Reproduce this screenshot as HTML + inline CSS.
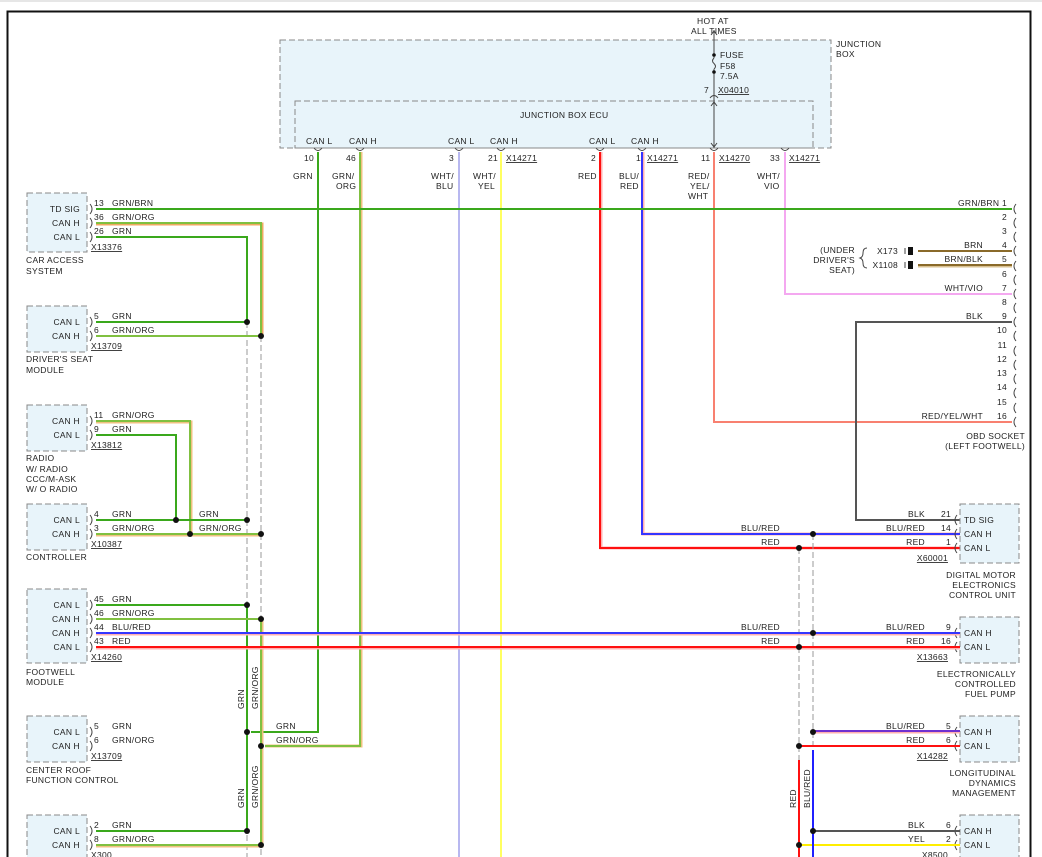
<!DOCTYPE html>
<html><head><meta charset="utf-8"><style>
html,body{margin:0;padding:0;background:#fff}
svg{display:block}
text{font-family:"Liberation Sans",sans-serif;font-size:8.5px;fill:#222;letter-spacing:0.3px}
.u{text-decoration:underline}
</style></head><body>
<svg width="1042" height="857" viewBox="0 0 1042 857" xmlns="http://www.w3.org/2000/svg">
<rect x="0" y="0" width="1042" height="2" fill="#e6e6e6"/>
<path d="M7.5,857 V11.5 H1030.5 V857" fill="none" stroke="#111" stroke-width="2"/>

<!-- Junction box -->
<rect x="280" y="40" width="551" height="108" fill="#e8f4fa" stroke="#888" stroke-dasharray="6,3"/>
<rect x="295" y="101" width="518" height="47" fill="none" stroke="#888" stroke-dasharray="6,3"/>
<text x="836" y="47">JUNCTION</text><text x="836" y="57">BOX</text>
<text x="520" y="118">JUNCTION BOX ECU</text>
<text x="697" y="24">HOT AT</text><text x="691" y="34">ALL TIMES</text>
<line x1="714" y1="30" x2="714" y2="148" stroke="#444" stroke-width="1"/>
<path d="M711,35 L714,31 L717,35 M711,106 L714,102 L717,106 M711,143 L714,147 L717,143" fill="none" stroke="#444"/>
<path d="M710,98 q4,-5 8,0" fill="none" stroke="#444"/>
<circle cx="714" cy="55" r="1.8" fill="#111"/><circle cx="714" cy="72" r="1.8" fill="#111"/>
<rect x="712" y="58" width="4" height="11" fill="#e8f4fa"/>
<path d="M714,58 q-3,3 0,5.5 q3,3 0,5.5" fill="none" stroke="#444"/>
<text x="720" y="58">FUSE</text><text x="720" y="69">F58</text><text x="720" y="79">7.5A</text>
<text x="704" y="93">7</text><text x="718" y="93" class="u">X04010</text>

<g>
<text x="306" y="144">CAN L</text><text x="349" y="144">CAN H</text>
<text x="448" y="144">CAN L</text><text x="490" y="144">CAN H</text>
<text x="589" y="144">CAN L</text><text x="631" y="144">CAN H</text>
</g>
<g fill="none" stroke="#444">
<path d="M314,148 q4,5 8,0 M356,148 q4,5 8,0 M455,148 q4,5 8,0 M497,148 q4,5 8,0 M596,148 q4,5 8,0 M638,148 q4,5 8,0 M710,148 q4,5 8,0 M781,148 q4,5 8,0"/>
</g>
<text x="304" y="161">10</text><text x="346" y="161">46</text><text x="449" y="161">3</text><text x="488" y="161">21</text><text x="506" y="161" class="u">X14271</text>
<text x="591" y="161">2</text><text x="636" y="161">1</text><text x="647" y="161" class="u">X14271</text>
<text x="701" y="161">11</text><text x="719" y="161" class="u">X14270</text><text x="770" y="161">33</text><text x="789" y="161" class="u">X14271</text>
<text x="293" y="179">GRN</text><text x="332" y="179">GRN/</text><text x="336" y="189">ORG</text>
<text x="431" y="179">WHT/</text><text x="436" y="189">BLU</text><text x="473" y="179">WHT/</text><text x="478" y="189">YEL</text>
<text x="578" y="179">RED</text><text x="619" y="179">BLU/</text><text x="620" y="189">RED</text>
<text x="688" y="179">RED/</text><text x="690" y="189">YEL/</text><text x="688" y="199">WHT</text>
<text x="757" y="179">WHT/</text><text x="764" y="189">VIO</text>

<!-- vertical wires from JB -->
<line x1="459" y1="152" x2="459" y2="857" stroke="#b8b8f0" stroke-width="2"/>
<line x1="501" y1="152" x2="501" y2="857" stroke="#ffff60" stroke-width="2"/>
<path d="M785,152 V294 H1012" fill="none" stroke="#f4a8f0" stroke-width="2"/>
<path d="M714,152 V422 H1012" fill="none" stroke="#f88070" stroke-width="2"/>
<path d="M601,152 V548 H960" fill="none" stroke="#ffb0b0" stroke-width="3"/>
<path d="M600,152 V548 H960" fill="none" stroke="#ff1010" stroke-width="2"/>
<path d="M643,152 V534 H960" fill="none" stroke="#ffb0b0" stroke-width="3"/>
<path d="M642,152 V534 H960" fill="none" stroke="#3535ff" stroke-width="2"/>
<path d="M1012,322 H856 V520 H960" fill="none" stroke="#555" stroke-width="2"/>
<path d="M361,152 V746 H265" fill="none" stroke="#f0c080" stroke-width="3"/>
<path d="M360,152 V746 H265" fill="none" stroke="#80c040" stroke-width="2"/>
<path d="M318,152 V732 H251" fill="none" stroke="#3aa81c" stroke-width="2"/>

<!-- main GRN/BRN -->
<line x1="96" y1="209" x2="1012" y2="209" stroke="#3aa81c" stroke-width="2"/>

<!-- dashed buses -->
<g stroke="#999" stroke-dasharray="6,3" stroke-width="1">
<line x1="247" y1="322" x2="247" y2="857"/><line x1="261" y1="336" x2="261" y2="857"/>
<line x1="799" y1="548" x2="799" y2="857"/><line x1="813" y1="534" x2="813" y2="857"/>
</g>

<!-- left modules -->
<g fill="#e8f4fa" stroke="#888" stroke-dasharray="6,3">
<rect x="27" y="193" width="60" height="59"/>
<rect x="27" y="306" width="60" height="46"/>
<rect x="27" y="405" width="60" height="46"/>
<rect x="27" y="504" width="60" height="46"/>
<rect x="27" y="589" width="60" height="74"/>
<rect x="27" y="716" width="60" height="46"/>
<rect x="27" y="815" width="60" height="50"/>
<rect x="960" y="504" width="59" height="59"/>
<rect x="960" y="617" width="59" height="46"/>
<rect x="960" y="716" width="59" height="46"/>
<rect x="960" y="815" width="59" height="50"/>
</g>
<!-- connector glyphs left -->
<g fill="none" stroke="#444">
<path d="M90,204 q4,5 0,10 M90,218 q4,5 0,10 M90,232 q4,5 0,10
M90,317 q4,5 0,10 M90,331 q4,5 0,10
M90,416 q4,5 0,10 M90,430 q4,5 0,10
M90,515 q4,5 0,10 M90,529 q4,5 0,10
M90,600 q4,5 0,10 M90,614 q4,5 0,10 M90,628 q4,5 0,10 M90,642 q4,5 0,10
M90,727 q4,5 0,10 M90,741 q4,5 0,10
M90,826 q4,5 0,10 M90,840 q4,5 0,10
M957,515 q-4,5 0,10 M957,529 q-4,5 0,10 M957,543 q-4,5 0,10
M957,628 q-4,5 0,10 M957,642 q-4,5 0,10
M957,727 q-4,5 0,10 M957,741 q-4,5 0,10
M957,826 q-4,5 0,10 M957,840 q-4,5 0,10"/>
<path d="M1016,204 q-4,5 0,10 M1016,218 q-4,5 0,10 M1016,232 q-4,5 0,10 M1016,246 q-4,5 0,10 M1016,261 q-4,5 0,10 M1016,275 q-4,5 0,10 M1016,289 q-4,5 0,10 M1016,303 q-4,5 0,10 M1016,317 q-4,5 0,10 M1016,331 q-4,5 0,10 M1016,346 q-4,5 0,10 M1016,360 q-4,5 0,10 M1016,374 q-4,5 0,10 M1016,388 q-4,5 0,10 M1016,403 q-4,5 0,10 M1016,417 q-4,5 0,10"/>
</g>

<!-- left wires -->
<g fill="none" stroke-width="2">
<path d="M96,224 H262 V336" stroke="#f0a860" stroke-width="3"/>
<path d="M96,223 H261 V336 H96" stroke="#80c040"/>
<path d="M96,237 H247 V322 H96" stroke="#3aa81c"/>
<path d="M96,422 H191 V534" stroke="#f0c080" stroke-width="3"/>
<path d="M96,421 H190 V534" stroke="#80c040"/>
<path d="M96,435 H176 V520" stroke="#3aa81c"/>
<path d="M96,520 H247" stroke="#3aa81c"/>
<path d="M96,535 H261" stroke="#f0c080" stroke-width="3"/>
<path d="M96,534 H261" stroke="#80c040"/>
<path d="M96,605 H247 V831 H96" stroke="#3aa81c"/>
<path d="M262,619 V846 H96" stroke="#f0c080" stroke-width="3"/>
<path d="M96,619 H261 V845 H96" stroke="#80c040"/>
<path d="M96,634 H960" stroke="#ffb0b0" stroke-width="3"/>
<path d="M96,633 H960" stroke="#3535ff"/>
<path d="M96,648 H960" stroke="#ffb0b0" stroke-width="3"/>
<path d="M96,647 H960" stroke="#ff1010"/>
<!-- right lower -->
<path d="M813,732 H960" stroke="#ffb0b0" stroke-width="3"/>
<path d="M813,731 H960" stroke="#7030d0"/>
<path d="M799,746 H960" stroke="#ff1010"/>
<path d="M813,831 H960" stroke="#555"/>
<path d="M799,845 H960" stroke="#ffee00"/>
<path d="M799,760 V857" stroke="#ff1010"/>
<path d="M813,750 V857" stroke="#2020ff"/>
<path d="M918,251 H1012" stroke="#8a6a2a"/>
<path d="M918,266 H1012" stroke="#d8c090" stroke-width="3"/>
<path d="M918,265 H1012" stroke="#8a6a2a"/>
</g>
<!-- dots -->
<g fill="#111">
<circle cx="247" cy="322" r="3"/><circle cx="261" cy="336" r="3"/>
<circle cx="176" cy="520" r="3"/><circle cx="190" cy="534" r="3"/>
<circle cx="247" cy="520" r="3"/><circle cx="261" cy="534" r="3"/>
<circle cx="247" cy="605" r="3"/><circle cx="261" cy="619" r="3"/>
<circle cx="247" cy="732" r="3"/><circle cx="261" cy="746" r="3"/>
<circle cx="247" cy="831" r="3"/><circle cx="261" cy="845" r="3"/>
<circle cx="813" cy="534" r="3"/><circle cx="799" cy="548" r="3"/>
<circle cx="813" cy="633" r="3"/><circle cx="799" cy="647" r="3"/>
<circle cx="813" cy="732" r="3"/><circle cx="799" cy="746" r="3"/>
<circle cx="813" cy="831" r="3"/><circle cx="799" cy="845" r="3"/>
<rect x="908" y="247" width="5" height="8"/><rect x="908" y="261" width="5" height="8"/>
</g>
<path d="M905,248 v6 M905,262 v6" stroke="#444"/>

<!-- left module text -->
<g text-anchor="end">
<text x="80" y="212">TD SIG</text><text x="80" y="226">CAN H</text><text x="80" y="240">CAN L</text>
<text x="80" y="325">CAN L</text><text x="80" y="339">CAN H</text>
<text x="80" y="424">CAN H</text><text x="80" y="438">CAN L</text>
<text x="80" y="523">CAN L</text><text x="80" y="537">CAN H</text>
<text x="80" y="608">CAN L</text><text x="80" y="622">CAN H</text><text x="80" y="636">CAN H</text><text x="80" y="650">CAN L</text>
<text x="80" y="735">CAN L</text><text x="80" y="749">CAN H</text>
<text x="80" y="834">CAN L</text><text x="80" y="848">CAN H</text>
</g>
<g>
<text x="94" y="206">13</text><text x="112" y="206">GRN/BRN</text>
<text x="94" y="220">36</text><text x="112" y="220">GRN/ORG</text>
<text x="94" y="234">26</text><text x="112" y="234">GRN</text>
<text x="91" y="250" class="u">X13376</text>
<text x="26" y="263">CAR ACCESS</text><text x="26" y="274">SYSTEM</text>
<text x="94" y="319">5</text><text x="112" y="319">GRN</text>
<text x="94" y="333">6</text><text x="112" y="333">GRN/ORG</text>
<text x="91" y="349" class="u">X13709</text>
<text x="26" y="362">DRIVER'S SEAT</text><text x="26" y="373">MODULE</text>
<text x="94" y="418">11</text><text x="112" y="418">GRN/ORG</text>
<text x="94" y="432">9</text><text x="112" y="432">GRN</text>
<text x="91" y="448" class="u">X13812</text>
<text x="26" y="461">RADIO</text><text x="26" y="472">W/ RADIO</text><text x="26" y="482">CCC/M-ASK</text><text x="26" y="492">W/ O RADIO</text>
<text x="94" y="517">4</text><text x="112" y="517">GRN</text><text x="199" y="517">GRN</text>
<text x="94" y="531">3</text><text x="112" y="531">GRN/ORG</text><text x="199" y="531">GRN/ORG</text>
<text x="91" y="547" class="u">X10387</text>
<text x="26" y="560">CONTROLLER</text>
<text x="94" y="602">45</text><text x="112" y="602">GRN</text>
<text x="94" y="616">46</text><text x="112" y="616">GRN/ORG</text>
<text x="94" y="630">44</text><text x="112" y="630">BLU/RED</text>
<text x="94" y="644">43</text><text x="112" y="644">RED</text>
<text x="91" y="660" class="u">X14260</text>
<text x="26" y="675">FOOTWELL</text><text x="26" y="685">MODULE</text>
<text x="94" y="729">5</text><text x="112" y="729">GRN</text><text x="276" y="729">GRN</text>
<text x="94" y="743">6</text><text x="112" y="743">GRN/ORG</text><text x="276" y="743">GRN/ORG</text>
<text x="91" y="759" class="u">X13709</text>
<text x="26" y="773">CENTER ROOF</text><text x="26" y="783">FUNCTION CONTROL</text>
<text x="94" y="828">2</text><text x="112" y="828">GRN</text>
<text x="94" y="842">8</text><text x="112" y="842">GRN/ORG</text>
<text x="91" y="858" class="u">X300</text>
</g>
<g>
<text transform="translate(244,709) rotate(-90)">GRN</text>
<text transform="translate(258,709) rotate(-90)">GRN/ORG</text>
<text transform="translate(244,808) rotate(-90)">GRN</text>
<text transform="translate(258,808) rotate(-90)">GRN/ORG</text>
<text transform="translate(796,808) rotate(-90)">RED</text>
<text transform="translate(810,808) rotate(-90)">BLU/RED</text>
</g>

<!-- right side text -->
<g text-anchor="end">
<text x="1007" y="206">GRN/BRN  1</text>
<text x="1007" y="220">2</text><text x="1007" y="234">3</text>
<text x="983" y="248">BRN</text><text x="1007" y="248">4</text>
<text x="983" y="262">BRN/BLK</text><text x="1007" y="262">5</text>
<text x="1007" y="277">6</text>
<text x="983" y="291">WHT/VIO</text><text x="1007" y="291">7</text>
<text x="1007" y="305">8</text>
<text x="983" y="319">BLK</text><text x="1007" y="319">9</text>
<text x="1007" y="333">10</text><text x="1007" y="348">11</text><text x="1007" y="362">12</text><text x="1007" y="376">13</text><text x="1007" y="390">14</text><text x="1007" y="405">15</text>
<text x="983" y="419">RED/YEL/WHT</text><text x="1007" y="419">16</text>
<text x="1025" y="439">OBD SOCKET</text><text x="1025" y="449">(LEFT FOOTWELL)</text>
<text x="855" y="253">(UNDER</text><text x="855" y="263">DRIVER'S</text><text x="855" y="273">SEAT)</text>
<text x="898" y="254">X173</text><text x="898" y="268">X1108</text>

<text x="925" y="517">BLK</text><text x="951" y="517">21</text>
<text x="925" y="531">BLU/RED</text><text x="951" y="531">14</text>
<text x="925" y="545">RED</text><text x="951" y="545">1</text>
<text x="948" y="561" class="u">X60001</text>
<text x="1016" y="578">DIGITAL MOTOR</text><text x="1016" y="588">ELECTRONICS</text><text x="1016" y="598">CONTROL UNIT</text>
<text x="780" y="531">BLU/RED</text><text x="780" y="545">RED</text>
<text x="780" y="630">BLU/RED</text><text x="780" y="644">RED</text>
<text x="925" y="630">BLU/RED</text><text x="951" y="630">9</text>
<text x="925" y="644">RED</text><text x="951" y="644">16</text>
<text x="948" y="660" class="u">X13663</text>
<text x="1016" y="677">ELECTRONICALLY</text><text x="1016" y="687">CONTROLLED</text><text x="1016" y="697">FUEL PUMP</text>
<text x="925" y="729">BLU/RED</text><text x="951" y="729">5</text>
<text x="925" y="743">RED</text><text x="951" y="743">6</text>
<text x="948" y="759" class="u">X14282</text>
<text x="1016" y="776">LONGITUDINAL</text><text x="1016" y="786">DYNAMICS</text><text x="1016" y="796">MANAGEMENT</text>
<text x="925" y="828">BLK</text><text x="951" y="828">6</text>
<text x="925" y="842">YEL</text><text x="951" y="842">2</text>
<text x="948" y="858" class="u">X8500</text>
</g>
<path d="M867,248 q-4,0 -4,5 q0,4 -3,5 q3,1 3,5 q0,5 4,5" fill="none" stroke="#444"/>
<g>
<text x="964" y="523">TD SIG</text><text x="964" y="537">CAN H</text><text x="964" y="551">CAN L</text>
<text x="964" y="636">CAN H</text><text x="964" y="650">CAN L</text>
<text x="964" y="735">CAN H</text><text x="964" y="749">CAN L</text>
<text x="964" y="834">CAN H</text><text x="964" y="848">CAN L</text>
</g>
</svg>
</body></html>
